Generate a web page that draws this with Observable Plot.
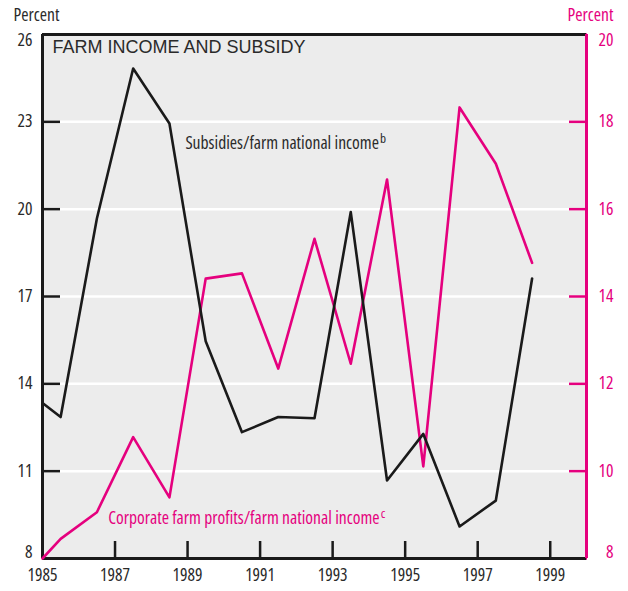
<!DOCTYPE html>
<html><head><meta charset="utf-8">
<script src="https://cdn.jsdelivr.net/npm/d3@7"></script>
<script src="https://cdn.jsdelivr.net/npm/@observablehq/plot@0.6"></script>
<style>body{margin:0;background:#fff}</style>
</head><body><div id="chart"></div>
<script>
const years = [1985, 1985.5, 1986.5, 1987.5, 1988.5, 1989.5, 1990.5, 1991.5, 1992.5, 1993.5, 1994.5, 1995.5, 1996.5, 1997.5, 1998.5];
const subsidies = [13.34, 12.86, 19.68, 24.83, 22.94, 15.46, 12.34, 12.86, 12.82, 19.9, 10.68, 12.28, 9.10, 9.99, 17.62];
const corporate = [8.0, 8.45, 9.06, 10.78, 9.40, 14.41, 14.53, 12.35, 15.32, 12.46, 16.68, 10.11, 18.33, 17.04, 14.77];
const leftTicks = [8, 11, 14, 17, 20, 23, 26];
const rightTicks = [8, 10, 12, 14, 16, 18, 20];
const xTicks = [1985, 1987, 1989, 1991, 1993, 1995, 1997, 1999];
const xDomain = [1985, 2000];
const title = "FARM INCOME AND SUBSIDY";
const unitLabel = "Percent";
const subsidyLabel = "Subsidies/farm national income";
const corporateLabel = "Corporate farm profits/farm national income";

const PINK = "#e5007e";
const INK = "#1a1a1a";
const TXT = "#2a2a2a";

// pick a condensed face if one is installed
function pickFont() {
  const ctx = document.createElement("canvas").getContext("2d");
  const sample = subsidyLabel;
  const w = (font) => { ctx.font = font; return ctx.measureText(sample).width; };
  const mono = w("16px monospace");
  const base = w("16px 'Liberation Sans', monospace");
  const cands = [
    {family: "Liberation Sans Narrow", stretch: "normal"},
    {family: "Arial Narrow", stretch: "normal"},
    {family: "Roboto Condensed", stretch: "normal"},
    {family: "DejaVu Sans Condensed", stretch: "normal"},
    {family: "Open Sans", stretch: "condensed"},
    {family: "Roboto", stretch: "condensed"},
    {family: "Noto Sans", stretch: "condensed"},
    {family: "DejaVu Sans", stretch: "condensed"}
  ];
  for (const c of cands) {
    const plain = w(`16px '${c.family}', monospace`);
    if (Math.abs(plain - mono) < 0.5) continue; // not installed
    const cw = w(`${c.stretch === "normal" ? "" : c.stretch + " "}16px '${c.family}', monospace`);
    if (cw < base * 0.9) return {family: `'${c.family}', sans-serif`, stretch: c.stretch, size: 17 * Math.min(1.05, Math.max(0.9, (base * 0.82) / cw))};
  }
  return {family: "'Liberation Sans', Arial, sans-serif", stretch: "normal", size: 14.5};
}
const NF = pickFont();
const FS = +NF.size.toFixed(2);

// right axis (8–20) mapped onto left scale (8–26)
const toLeft = v => 8 + (v - 8) * 1.5;
const fromLeft = v => 8 + (v - 8) / 1.5;

const subsidyData = years.map((year, i) => ({year, value: subsidies[i]}));
const corporateData = years.map((year, i) => ({year, value: toLeft(corporate[i])}));

const chart = Plot.plot({
  width: 628, height: 591,
  marginLeft: 42, marginRight: 42, marginTop: 34, marginBottom: 33,
  x: {domain: xDomain},
  y: {domain: [leftTicks[0], leftTicks[leftTicks.length - 1]]},
  style: {fontFamily: NF.family, fontStretch: NF.stretch, fontSize: FS + "px", color: TXT, background: "white", overflow: "visible"},
  marks: [
    Plot.frame({fill: "#ececec", stroke: null}),
    Plot.gridY(leftTicks, {stroke: "white", strokeOpacity: 1, strokeWidth: 2.5}),
    // left axis
    Plot.axisY(leftTicks, {anchor: "left", tickSize: 0, tickPadding: 10, label: null, fontSize: FS, fill: TXT}),
    Plot.axisY(leftTicks, {anchor: "left", tickSize: -18, tickFormat: () => "", label: null, stroke: INK, strokeWidth: 2.5}),
    // right axis
    Plot.axisY(rightTicks.map(toLeft), {anchor: "right", tickSize: 0, tickPadding: 27, textAnchor: "end", label: null, fontSize: FS, fill: PINK, tickFormat: d => String(Math.round(fromLeft(d)))}),
    Plot.axisY(rightTicks.map(toLeft), {anchor: "right", tickSize: -18, tickFormat: () => "", label: null, stroke: PINK, strokeWidth: 2.5}),
    // bottom axis
    Plot.axisX(xTicks, {anchor: "bottom", tickSize: 0, tickPadding: 10, label: null, fontSize: FS, fill: TXT, tickFormat: d => String(d)}),
    Plot.axisX(xTicks, {anchor: "bottom", tickSize: -17, tickFormat: () => "", label: null, stroke: INK, strokeWidth: 2.5}),
    // borders
    Plot.ruleY([leftTicks[leftTicks.length - 1]], {stroke: INK, strokeWidth: 3}),
    Plot.ruleY([leftTicks[0]], {stroke: INK, strokeWidth: 3}),
    Plot.ruleX([xDomain[0]], {stroke: INK, strokeWidth: 3}),
    Plot.ruleX([xDomain[1]], {stroke: PINK, strokeWidth: 3}),
    // series
    Plot.line(corporateData, {x: "year", y: "value", stroke: PINK, strokeWidth: 2.6}),
    Plot.line(subsidyData, {x: "year", y: "value", stroke: INK, strokeWidth: 2.6}),
    // labels
    Plot.text([title], {frameAnchor: "top-left", dx: 10, dy: 13, lineAnchor: "middle", fontFamily: "'Liberation Sans', Arial, sans-serif", fontStretch: "normal", fontSize: 18, fill: TXT, textAnchor: "start"}),
    Plot.text([unitLabel], {frameAnchor: "top-left", dx: -29, dy: -19, lineAnchor: "middle", fontSize: FS, fill: TXT, textAnchor: "start"}),
    Plot.text([unitLabel], {frameAnchor: "top-right", dx: 27, dy: -19, lineAnchor: "middle", fontSize: FS, fill: PINK, textAnchor: "end"}),
    Plot.text([subsidyLabel], {x: 1988.94, y: 22.26, fontSize: FS, fill: TXT, textAnchor: "start"}),
    Plot.text([corporateLabel], {x: 1986.81, y: 9.37, fontSize: FS, fill: PINK, textAnchor: "start"})
  ]
});

// superscripts
d3.select(chart).selectAll("text").filter(function() { return this.textContent === subsidyLabel; })
  .append("tspan").attr("dy", "-0.45em").attr("dx", "1").attr("font-size", (FS * 0.75).toFixed(1)).text("b");
d3.select(chart).selectAll("text").filter(function() { return this.textContent === corporateLabel; })
  .append("tspan").attr("dy", "-0.45em").attr("dx", "1").attr("font-size", (FS * 0.75).toFixed(1)).text("c");

// nudge the end tick labels (top and bottom of the frame) inward, as in the reference
d3.select(chart).selectAll("g[aria-label='y-axis tick label'] text").each(function() {
  const tr = this.getAttribute("transform") || "";
  const m = /translate\(\s*([-\d.]+)[ ,]+([-\d.]+)\s*\)/.exec(tr);
  if (!m) return;
  const ty = +m[2];
  if (ty < 40) this.setAttribute("transform", tr + " translate(0,6)");
  else if (ty > 550) this.setAttribute("transform", tr + " translate(0,-6)");
});

document.getElementById("chart").appendChild(chart);
</script>
</body></html>
